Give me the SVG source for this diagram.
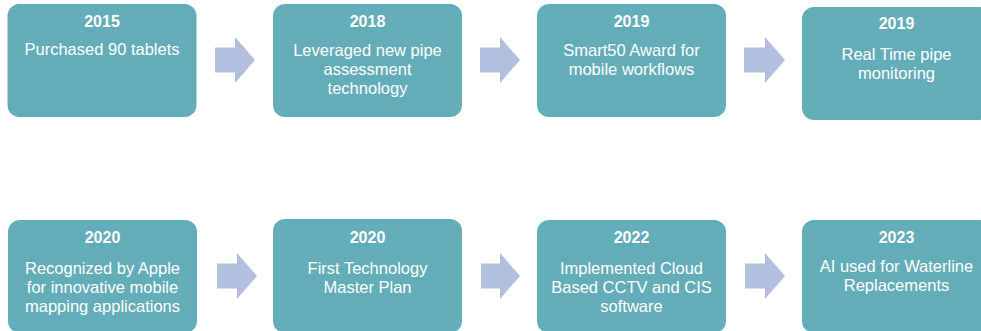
<svg xmlns="http://www.w3.org/2000/svg" width="981" height="331" viewBox="0 0 981 331">
<style>
.box{fill:#63adb9;}
.arr{fill:#b2bfdc;}
.yr{font-family:"Liberation Sans",Arial,sans-serif;font-size:16px;font-weight:bold;fill:#ffffff;text-anchor:middle;}
.tx{font-family:"Liberation Sans",Arial,sans-serif;font-size:16.5px;fill:#ffffff;text-anchor:middle;}
</style>
<rect width="981" height="331" fill="#ffffff"/>
<g id="connectors">
<path class="arr" d="M215,47.5 h20 v-10.5 l20,23 l-20,23 v-10.5 h-20 z"/>
<path class="arr" d="M480,47.5 h20 v-10.5 l20,23 l-20,23 v-10.5 h-20 z"/>
<path class="arr" d="M744,47.5 h21 v-10.5 l20,23 l-20,23 v-10.5 h-21 z"/>
<path class="arr" d="M217,263.5 h20 v-10.5 l20,23 l-20,23 v-10.5 h-20 z"/>
<path class="arr" d="M481,263.5 h19 v-10.5 l20,23 l-20,23 v-10.5 h-19 z"/>
<path class="arr" d="M745,263.5 h20 v-10.5 l20,23 l-20,23 v-10.5 h-20 z"/>
</g>
<g id="n2015">
<rect class="box" x="7.5" y="4" width="189" height="113" rx="12"/>
<text class="yr" x="102" y="27">2015</text>
<text class="tx" x="102" y="55">Purchased 90 tablets</text>
</g>
<g id="n2018">
<rect class="box" x="273" y="4" width="189" height="113" rx="12"/>
<text class="yr" x="367.5" y="27">2018</text>
<text class="tx" x="367.5" y="56">Leveraged new pipe</text>
<text class="tx" x="367.5" y="75">assessment</text>
<text class="tx" x="367.5" y="94">technology</text>
</g>
<g id="n2019a">
<rect class="box" x="537" y="4" width="189" height="113" rx="12"/>
<text class="yr" x="631.5" y="27">2019</text>
<text class="tx" x="631.5" y="56">Smart50 Award for</text>
<text class="tx" x="631.5" y="75">mobile workflows</text>
</g>
<g id="n2019b">
<rect class="box" x="802" y="7" width="189" height="113" rx="12"/>
<text class="yr" x="896.5" y="29">2019</text>
<text class="tx" x="896.5" y="60">Real Time pipe</text>
<text class="tx" x="896.5" y="79">monitoring</text>
</g>
<g id="n2020a">
<rect class="box" x="8" y="220" width="189" height="113" rx="12"/>
<text class="yr" x="102.5" y="243">2020</text>
<text class="tx" x="102.5" y="274">Recognized by Apple</text>
<text class="tx" x="102.5" y="293">for innovative mobile</text>
<text class="tx" x="102.5" y="312">mapping applications</text>
</g>
<g id="n2020b">
<rect class="box" x="273" y="219" width="189" height="114" rx="12"/>
<text class="yr" x="367.5" y="243">2020</text>
<text class="tx" x="367.5" y="274">First Technology</text>
<text class="tx" x="367.5" y="293">Master Plan</text>
</g>
<g id="n2022">
<rect class="box" x="537" y="220" width="189" height="113" rx="12"/>
<text class="yr" x="631.5" y="243">2022</text>
<text class="tx" x="631.5" y="274">Implemented Cloud</text>
<text class="tx" x="631.5" y="293">Based CCTV and CIS</text>
<text class="tx" x="631.5" y="312">software</text>
</g>
<g id="n2023">
<rect class="box" x="802" y="220" width="189" height="113" rx="12"/>
<text class="yr" x="896.5" y="243">2023</text>
<text class="tx" x="896.5" y="272">AI used for Waterline</text>
<text class="tx" x="896.5" y="291">Replacements</text>
</g>
</svg>
